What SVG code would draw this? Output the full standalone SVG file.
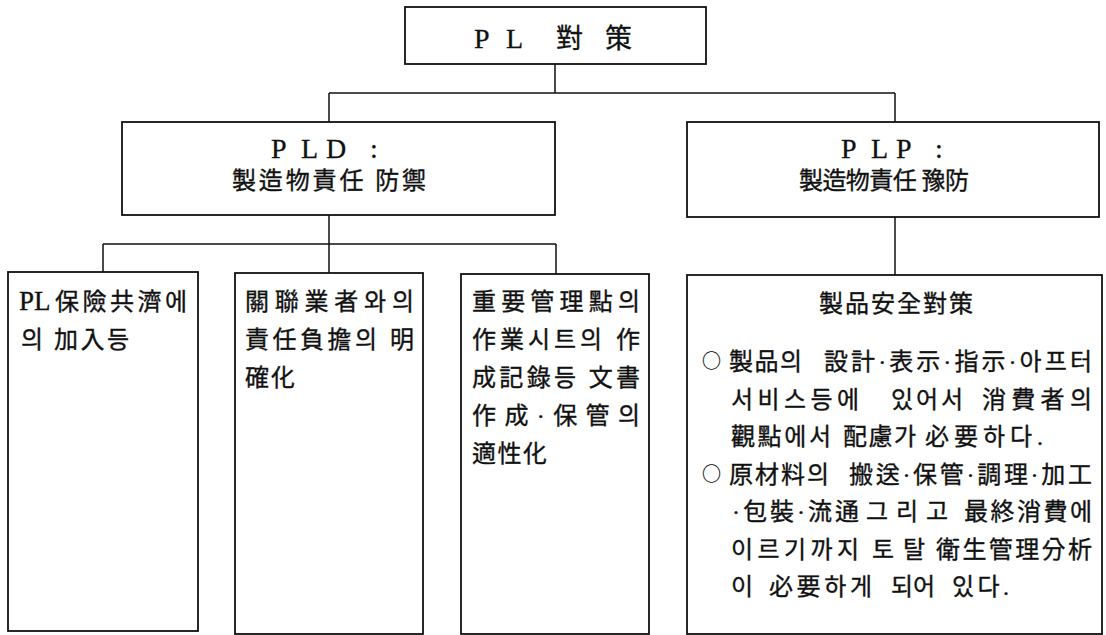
<svg xmlns="http://www.w3.org/2000/svg" width="1106" height="635" viewBox="0 0 1106 635">
<style>
.box{fill:#fff;stroke:#111;stroke-width:1.8}
.con{fill:none;stroke:#111;stroke-width:1.5}
.t{font-family:"Liberation Serif","Noto Sans CJK KR",serif;fill:#111;stroke:#111;stroke-width:0.35;font-size:24px}
.lat{font-family:"Liberation Serif","Noto Sans CJK KR",serif;fill:#111;stroke:#111;stroke-width:0.3;font-size:28px}
.bul{font-family:"Noto Sans CJK KR",sans-serif;font-size:19px;stroke-width:0.2}
</style>
<rect x="0" y="0" width="1106" height="635" fill="#fff"/>
<g id="connectors">
<path class="con" d="M555,64V93M329,93H895M329,93V122M895,93V122"/>
<path class="con" d="M329,215V244M103,244H556M103,244V272M329,244V273M556,244V274"/>
<path class="con" d="M895,217V275"/>
</g>
<g id="root">
<rect class="box" x="405" y="7" width="301" height="57"/>
<text class="lat" font-size="31" y="48" x="474 495 506 530 556 585 605">P L <tspan font-size="27">對</tspan> <tspan font-size="27">策</tspan></text>
</g>
<g id="pld">
<rect class="box" x="122" y="122" width="433" height="93"/>
<text class="lat" y="158" x="271 290 301 318 326 350 370">P L D :</text>
<text class="t" font-size="25" x="232" y="189" textLength="194" lengthAdjust="spacing">製造物責任 防禦</text>
</g>
<g id="plp">
<rect class="box" x="687" y="122" width="412" height="95"/>
<text class="lat" y="158" x="841 860 871 886 896 918 935">P L P :</text>
<text class="t" font-size="25" x="799" y="189" textLength="170" lengthAdjust="spacing">製造物責任 豫防</text>
</g>
<g id="insurance">
<rect class="box" x="8" y="272" width="190" height="359"/>
<text class="t" y="310"><tspan x="19" font-size="27">PL</tspan><tspan x="55" textLength="132" lengthAdjust="spacing">保險共濟에</tspan></text>
<text class="t" x="21" y="348" textLength="108" lengthAdjust="spacing">의 加入등</text>
</g>
<g id="responsibility">
<rect class="box" x="235" y="273" width="188" height="361"/>
<text class="t" x="245" y="310" textLength="169" lengthAdjust="spacing">關聯業者와의</text>
<text class="t" x="245" y="348" textLength="169" lengthAdjust="spacing">責任負擔의 明</text>
<text class="t" x="245" y="386" textLength="50" lengthAdjust="spacing">確化</text>
</g>
<g id="documents">
<rect class="box" x="461" y="274" width="188" height="360"/>
<text class="t" x="472" y="310" textLength="168" lengthAdjust="spacing">重要管理點의</text>
<text class="t" x="472" y="348" textLength="168" lengthAdjust="spacing">作業시트의 作</text>
<text class="t" x="472" y="386" textLength="168" lengthAdjust="spacing">成記錄등 文書</text>
<text class="t" x="472" y="424" textLength="168" lengthAdjust="spacing">作成·保管의</text>
<text class="t" x="472" y="462" textLength="75" lengthAdjust="spacing">適性化</text>
</g>
<g id="safety">
<rect class="box" x="687" y="275" width="415" height="359"/>
<text class="t" x="819" y="312" textLength="154" lengthAdjust="spacing">製品安全對策</text>
<text class="t" y="370"><tspan x="702" y="368" class="bul">○</tspan> <tspan x="729" y="370" textLength="73" lengthAdjust="spacing">製品의</tspan> <tspan x="824" textLength="268" lengthAdjust="spacing">設計·表示·指示·아프터</tspan></text>
<text class="t" y="407.5"><tspan x="731" textLength="128" lengthAdjust="spacing">서비스등에</tspan> <tspan x="891" textLength="72" lengthAdjust="spacing">있어서</tspan> <tspan x="982" textLength="110" lengthAdjust="spacing">消費者의</tspan></text>
<text class="t" y="445"><tspan x="731" textLength="100" lengthAdjust="spacing">觀點에서</tspan> <tspan x="843" textLength="73" lengthAdjust="spacing">配慮가</tspan> <tspan x="925" textLength="118" lengthAdjust="spacing">必要하다.</tspan></text>
<text class="t" y="482.5"><tspan x="702" y="480.5" class="bul">○</tspan> <tspan x="729" y="482.5" textLength="100" lengthAdjust="spacing">原材料의</tspan> <tspan x="849" textLength="243" lengthAdjust="spacing">搬送·保管·調理·加工</tspan></text>
<text class="t" y="520"><tspan x="732" textLength="127" lengthAdjust="spacing">·包裝·流通</tspan> <tspan x="866" textLength="82" lengthAdjust="spacing">그리고</tspan> <tspan x="964" textLength="128" lengthAdjust="spacing">最終消費에</tspan></text>
<text class="t" y="557.5"><tspan x="731" textLength="128" lengthAdjust="spacing">이르기까지</tspan> <tspan x="872" textLength="53" lengthAdjust="spacing">토탈</tspan> <tspan x="936" textLength="156" lengthAdjust="spacing">衛生管理分析</tspan></text>
<text class="t" y="595"><tspan x="731">이</tspan> <tspan x="769" textLength="103" lengthAdjust="spacing">必要하게</tspan> <tspan x="891">되어</tspan> <tspan x="952" textLength="57" lengthAdjust="spacing">있다.</tspan></text>
</g>
</svg>
